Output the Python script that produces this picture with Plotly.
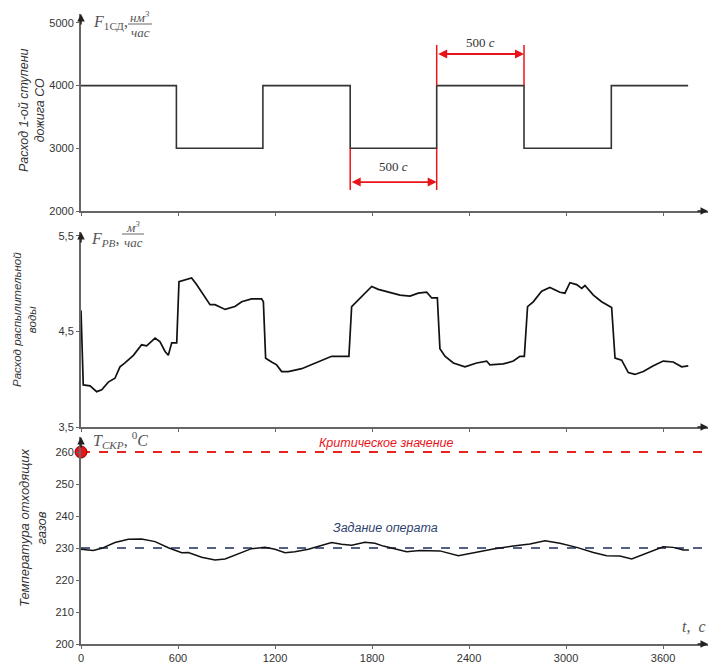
import plotly.graph_objects as go

# ---------------- data ----------------
t_step = [0, 590, 1125, 1665, 2200, 2740, 3280, 3755]
f1_step = [4000, 3000, 4000, 3000, 4000, 3000, 4000, 4000]

t_water = [0, 8, 14, 56, 97, 128, 169, 210, 241, 272, 324, 375, 406, 458, 489, 520, 540, 561, 592,
           606, 643, 684, 715, 757, 798, 829, 891, 952, 994, 1055, 1117, 1128,
           1142, 1179, 1210, 1241, 1282, 1365, 1447, 1550, 1612, 1657,
           1674, 1715, 1756, 1798, 1839, 1911, 1973, 2035, 2086, 2138, 2169, 2204,
           2220, 2251, 2303, 2375, 2447, 2509, 2529, 2612, 2674, 2715, 2742,
           2762, 2797, 2849, 2900, 2962, 2993, 3024, 3066, 3097, 3117, 3169, 3220, 3282,
           3303, 3344, 3385, 3426, 3478, 3540, 3601, 3663, 3715, 3756]
f_water = [4.72, 4.2, 3.94, 3.93, 3.87, 3.89, 3.97, 4.01, 4.13, 4.17, 4.25, 4.36, 4.35, 4.43, 4.39, 4.29, 4.25, 4.38, 4.38,
           5.02, 5.04, 5.06, 4.99, 4.88, 4.78, 4.78, 4.73, 4.76, 4.81, 4.84, 4.84, 4.81,
           4.22, 4.18, 4.15, 4.08, 4.08, 4.11, 4.17, 4.24, 4.24, 4.24,
           4.76, 4.83, 4.90, 4.97, 4.94, 4.91, 4.88, 4.87, 4.90, 4.91, 4.85, 4.85,
           4.32, 4.24, 4.17, 4.13, 4.17, 4.19, 4.15, 4.16, 4.19, 4.24, 4.24,
           4.76, 4.81, 4.92, 4.96, 4.91, 4.90, 5.01, 4.99, 4.95, 4.98, 4.88, 4.81, 4.75,
           4.22, 4.20, 4.07, 4.05, 4.08, 4.14, 4.19, 4.18, 4.13, 4.14]

t_temp = [0, 76, 128, 210, 293, 375, 458, 540, 623, 664, 746, 829, 891, 973, 1055, 1138, 1200,
          1262, 1323, 1406, 1488, 1550, 1612, 1674, 1756, 1818, 1870, 1932, 2014, 2096, 2220,
          2334, 2426, 2550, 2674, 2777, 2870, 2962, 3066, 3169, 3251, 3333, 3406, 3498, 3601,
          3663, 3725, 3760]
temp = [229.6, 229.2, 229.9, 231.7, 232.7, 232.8, 232.0, 230.1, 228.5, 228.6, 227.1, 226.25, 226.6,
        228.3, 229.8, 230.2, 229.6, 228.5, 228.8, 229.6, 230.9, 231.7, 231.2, 230.9, 231.8, 231.5,
        230.6, 229.9, 228.8, 229.2, 229.1, 227.6, 228.5, 229.7, 230.6, 231.25, 232.3, 231.5, 230.2,
        228.6, 227.6, 227.5, 226.6, 228.3, 230.4, 230.2, 229.4, 229.4]

t_lines = [0, 3860]
t_crit = 260
t_set = 230

x_ticks = [0, 600, 1200, 1800, 2400, 3000, 3600]
y1_ticks = [2000, 3000, 4000, 5000]
y2_ticks = [3.5, 4.5, 5.5]
y2_text = ["3,5", "4,5", "5,5"]
y3_ticks = [200, 210, 220, 230, 240, 250, 260]

period_lo = [1665, 2200]
period_hi = [2200, 2740]

# ---------------- figure ----------------
fig = go.Figure()
AX = "#666666"

fig.add_trace(go.Scatter(x=t_step, y=f1_step, mode="lines", line=dict(color="#333333", width=1.6, shape="hv"),
                         xaxis="x", yaxis="y", showlegend=False))
fig.add_trace(go.Scatter(x=t_water, y=f_water, mode="lines", line=dict(color="#111111", width=1.7),
                         xaxis="x2", yaxis="y2", showlegend=False))
fig.add_trace(go.Scatter(x=t_lines, y=[t_crit, t_crit], mode="lines",
                         line=dict(color="#e8221c", width=2, dash="dash"),
                         xaxis="x3", yaxis="y3", showlegend=False))
fig.add_trace(go.Scatter(x=t_lines, y=[t_set, t_set], mode="lines",
                         line=dict(color="#1f2d5c", width=1.5, dash="dash"),
                         xaxis="x3", yaxis="y3", showlegend=False))
fig.add_trace(go.Scatter(x=t_temp, y=temp, mode="lines", line=dict(color="#111111", width=1.5),
                         xaxis="x3", yaxis="y3", showlegend=False))
fig.add_trace(go.Scatter(x=[0], y=[t_crit], mode="markers",
                         marker=dict(color="#e8141a", size=12, line=dict(color="#8a0000", width=1)),
                         cliponaxis=False, xaxis="x3", yaxis="y3", showlegend=False))

XMAX = 3878
tickfont = dict(family="Arial", size=11, color="#333333")
xcommon = dict(range=[0, XMAX], showline=True, linecolor=AX, linewidth=2, ticks="outside",
               ticklen=3, tickcolor=AX, tickvals=x_ticks, showgrid=False, zeroline=False,
               domain=[0, 1])
fig.update_layout(
    width=716, height=672,
    margin=dict(l=81, r=8, t=14, b=19),
    plot_bgcolor="white", paper_bgcolor="white",
    xaxis=dict(**xcommon, anchor="y", showticklabels=False),
    xaxis2=dict(**xcommon, anchor="y2", showticklabels=False),
    xaxis3=dict(**xcommon, anchor="y3", showticklabels=True, tickfont=tickfont),
    yaxis=dict(domain=[0.6873, 1.0], range=[2000, 5142], tickvals=y1_ticks, showline=True,
               linecolor=AX, linewidth=2, ticks="outside", ticklen=3, tickcolor=AX,
               showgrid=False, zeroline=False, tickfont=tickfont),
    yaxis2=dict(domain=[0.3444, 0.654], range=[3.5, 5.54], tickvals=y2_ticks, ticktext=y2_text,
                showline=True, linecolor=AX, linewidth=2, ticks="outside", ticklen=3, tickcolor=AX,
                showgrid=False, zeroline=False, tickfont=tickfont),
    yaxis3=dict(domain=[0, 0.3286], range=[200, 264.7], tickvals=y3_ticks, showline=True,
                linecolor=AX, linewidth=2, ticks="outside", ticklen=3, tickcolor=AX,
                showgrid=False, zeroline=False, tickfont=tickfont),
)

anns = []
# axis arrowheads
for xr, yr, ytop in [("x", "y", 5142), ("x2", "y2", 5.54), ("x3", "y3", 264.7)]:
    anns.append(dict(x=0, y=ytop, xref=xr, yref=yr, ax=0, ay=12, text="", showarrow=True,
                     arrowhead=2, arrowsize=1, arrowwidth=1.5, arrowcolor="#222222", standoff=0))
for xr, yr, y0 in [("x", "y", 2000), ("x2", "y2", 3.5), ("x3", "y3", 200)]:
    anns.append(dict(x=XMAX, y=y0, xref=xr, yref=yr, ax=-12, ay=0, text="", showarrow=True,
                     arrowhead=2, arrowsize=1, arrowwidth=1.5, arrowcolor="#222222", standoff=0))

# red dimension arrows
RED = "#e8141a"
for (xa, xb), ya, ylab in [(period_lo, 2462, 2702), (period_hi, 4504, 4695)]:
    anns.append(dict(x=xb, y=ya, ax=xa, ay=ya, xref="x", yref="y", axref="x", ayref="y", text="",
                     showarrow=True, arrowhead=2, startarrowhead=2, arrowside="end+start",
                     arrowsize=1, arrowwidth=1.8, arrowcolor=RED, standoff=0, startstandoff=0))
    anns.append(dict(x=(xa + xb) / 2, y=ylab, xref="x", yref="y", showarrow=False,
                     text="500 <i>c</i>", font=dict(family="Liberation Serif", size=13, color="#333333")))

shapes = []
for xv in period_lo:
    shapes.append(dict(type="line", xref="x", yref="y", x0=xv, x1=xv, y0=3000, y1=2335,
                       line=dict(color=RED, width=1.5)))
for xv in period_hi:
    shapes.append(dict(type="line", xref="x", yref="y", x0=xv, x1=xv, y0=4000, y1=4648,
                       line=dict(color=RED, width=1.5)))

serif = dict(family="Liberation Serif", size=16, color="#555555")
serif_s = dict(family="Liberation Serif", size=13, color="#555555")

def px_to_paper_x(px):
    return (px - 81) / 627.0

def py_to_paper_y(py):
    return (644 - py) / 630.0

# panel titles (fractions)
def frac(xl, yl, lead, num, xf, w, yline):
    anns.append(dict(x=px_to_paper_x(xl), y=py_to_paper_y(yl), xref="paper", yref="paper",
                     xanchor="left", yanchor="middle", showarrow=False, text=lead, font=serif))
    anns.append(dict(x=px_to_paper_x(xf + w / 2), y=py_to_paper_y(yline - 7), xref="paper", yref="paper",
                     xanchor="center", yanchor="middle", showarrow=False, text=num, font=serif_s))
    anns.append(dict(x=px_to_paper_x(xf + w / 2), y=py_to_paper_y(yline + 8), xref="paper", yref="paper",
                     xanchor="center", yanchor="middle", showarrow=False, text="<i>час</i>", font=serif_s))
    shapes.append(dict(type="line", xref="paper", yref="paper", x0=px_to_paper_x(xf),
                       x1=px_to_paper_x(xf + w), y0=py_to_paper_y(yline), y1=py_to_paper_y(yline),
                       line=dict(color="#666666", width=1)))

frac(91, 23, "<i>F</i><sub>1СД</sub>,", "<i>нм<sup>3</sup></i>", 128, 24, 24)
frac(89, 240, "<i>F</i><sub><i>PB</i></sub>,", "<i>м<sup>3</sup></i>", 122, 22, 234)
anns.append(dict(x=px_to_paper_x(91), y=py_to_paper_y(440), xref="paper", yref="paper",
                 xanchor="left", yanchor="middle", showarrow=False,
                 text="<i>T</i><sub><i>СКР</i></sub>, <sup>0</sup><i>C</i>", font=serif))
anns.append(dict(x=px_to_paper_x(708), y=py_to_paper_y(626), xref="paper", yref="paper",
                 xanchor="right", yanchor="middle", showarrow=False,
                 text="<i>t</i>,  <i>c</i>", font=serif))

# reference line labels
anns.append(dict(x=px_to_paper_x(386), y=py_to_paper_y(443), xref="paper", yref="paper",
                 xanchor="center", yanchor="middle", showarrow=False,
                 text="<i>Критическое значение</i>", font=dict(family="Arial", size=12.5, color=RED)))
anns.append(dict(x=px_to_paper_x(385), y=py_to_paper_y(528), xref="paper", yref="paper",
                 xanchor="center", yanchor="middle", showarrow=False,
                 text="<i>Задание операта</i>", font=dict(family="Arial", size=12.5, color="#2e3f6e")))

# rotated y titles
ytitle = dict(family="Arial", color="#333333")
anns.append(dict(x=px_to_paper_x(32), y=py_to_paper_y(110), xref="paper", yref="paper", textangle=-90,
                 xanchor="center", yanchor="middle",
                 showarrow=False, text="<i>Расход 1-ой ступени<br>дожига СО</i>",
                 font=dict(**ytitle, size=12.5)))
anns.append(dict(x=px_to_paper_x(24), y=py_to_paper_y(320), xref="paper", yref="paper", textangle=-90,
                 xanchor="center", yanchor="middle",
                 showarrow=False, text="<i>Расход распылительной<br>воды</i>",
                 font=dict(**ytitle, size=11.5)))
anns.append(dict(x=px_to_paper_x(33), y=py_to_paper_y(528), xref="paper", yref="paper", textangle=-90,
                 xanchor="center", yanchor="middle",
                 showarrow=False, text="<i>Температура отходящих<br>газов</i>",
                 font=dict(**ytitle, size=13)))

fig.update_layout(annotations=anns, shapes=shapes)
post = ("document.body.style.margin='0px';document.body.style.overflow='hidden';"
        "document.documentElement.style.overflow='hidden';"
        "var d=document.getElementById('{plot_id}');d.style.position='absolute';"
        "d.style.top='0px';d.style.left='0px';")
fig.write_html("out.html", post_script=post, config={"displayModeBar": False})
